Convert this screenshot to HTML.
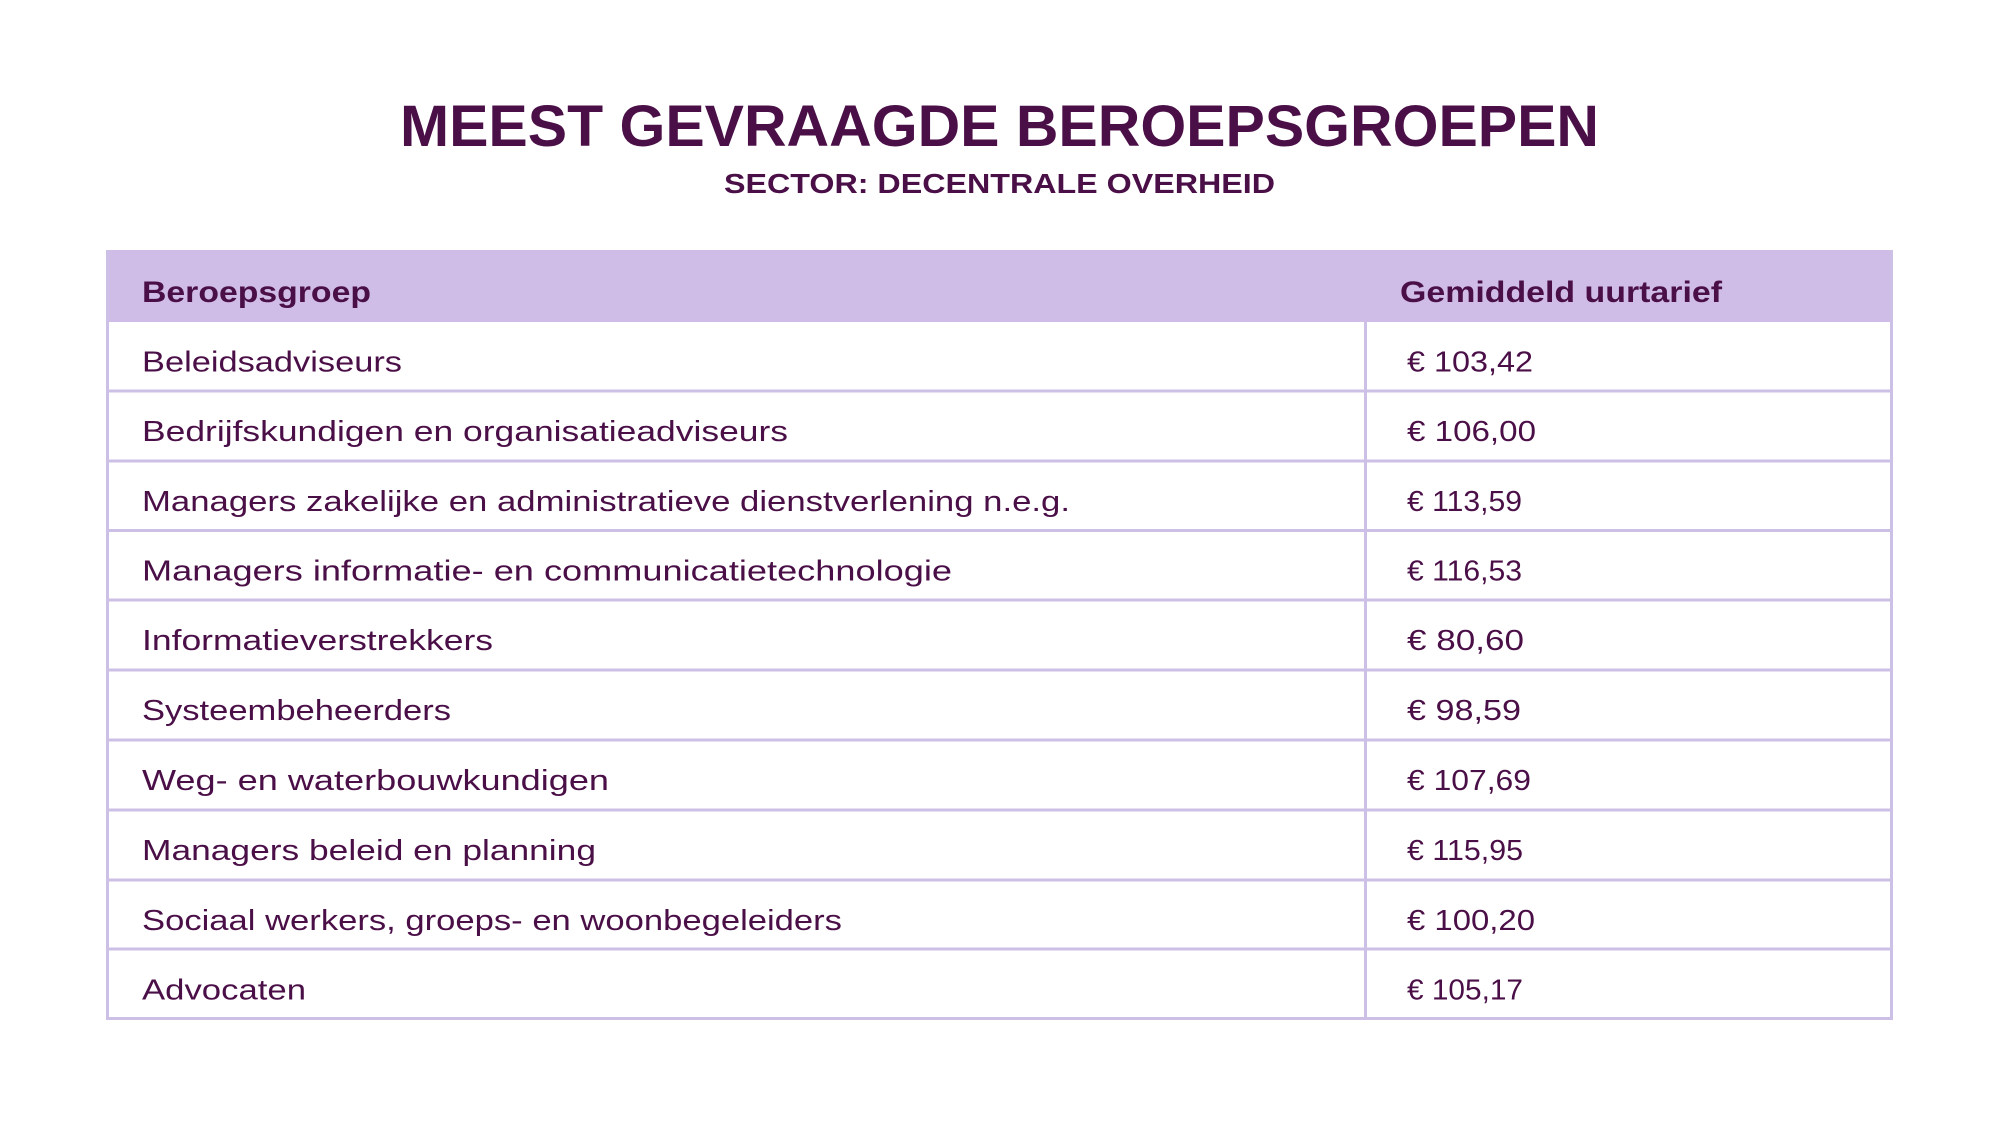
<!DOCTYPE html>
<html>
<head>
<meta charset="utf-8">
<style>
  html, body { margin:0; padding:0; background:#ffffff; }
  svg { display:block; }
  text { font-family: "Liberation Sans", "DejaVu Sans", sans-serif; fill:#4b0f48; }
  .b { font-weight:bold; }
</style>
</head>
<body>
<svg width="2000" height="1125" viewBox="0 0 2000 1125" xmlns="http://www.w3.org/2000/svg">
  <rect x="0" y="0" width="2000" height="1125" fill="#ffffff"/>

  <!-- Title -->
  <text class="b" x="400" y="146" font-size="58" textLength="1199" lengthAdjust="spacingAndGlyphs">MEEST GEVRAAGDE BEROEPSGROEPEN</text>
  <text class="b" x="724" y="193" font-size="28" textLength="551" lengthAdjust="spacingAndGlyphs">SECTOR: DECENTRALE OVERHEID</text>

  <!-- Header -->
  <rect x="106" y="250" width="1787" height="72" fill="#cfbde8"/>
  <text class="b" x="142" y="302" font-size="30" textLength="229" lengthAdjust="spacingAndGlyphs">Beroepsgroep</text>
  <text class="b" x="1400" y="302" font-size="30" textLength="322" lengthAdjust="spacingAndGlyphs">Gemiddeld uurtarief</text>

  <!-- Table lines -->
  <g stroke="#cdc0e6" stroke-width="3" fill="none">
    <line x1="107.5" y1="250" x2="107.5" y2="1020"/>
    <line x1="1891.5" y1="250" x2="1891.5" y2="1020"/>
    <line x1="1365.5" y1="322" x2="1365.5" y2="1020"/>
    <line x1="106" y1="391" x2="1893" y2="391"/>
    <line x1="106" y1="461" x2="1893" y2="461"/>
    <line x1="106" y1="530.5" x2="1893" y2="530.5"/>
    <line x1="106" y1="600" x2="1893" y2="600"/>
    <line x1="106" y1="670" x2="1893" y2="670"/>
    <line x1="106" y1="740" x2="1893" y2="740"/>
    <line x1="106" y1="810" x2="1893" y2="810"/>
    <line x1="106" y1="880" x2="1893" y2="880"/>
    <line x1="106" y1="949" x2="1893" y2="949"/>
    <line x1="106" y1="1018.5" x2="1893" y2="1018.5"/>
  </g>

  <!-- Rows: labels -->
  <g font-size="29">
    <text x="142" y="371.5" textLength="260" lengthAdjust="spacingAndGlyphs">Beleidsadviseurs</text>
    <text x="142" y="441" textLength="646" lengthAdjust="spacingAndGlyphs">Bedrijfskundigen en organisatieadviseurs</text>
    <text x="142" y="511" textLength="928" lengthAdjust="spacingAndGlyphs">Managers zakelijke en administratieve dienstverlening n.e.g.</text>
    <text x="142" y="580.5" textLength="810" lengthAdjust="spacingAndGlyphs">Managers informatie- en communicatietechnologie</text>
    <text x="142" y="650" textLength="351" lengthAdjust="spacingAndGlyphs">Informatieverstrekkers</text>
    <text x="142" y="720" textLength="309" lengthAdjust="spacingAndGlyphs">Systeembeheerders</text>
    <text x="142" y="790" textLength="467" lengthAdjust="spacingAndGlyphs">Weg- en waterbouwkundigen</text>
    <text x="142" y="860" textLength="454" lengthAdjust="spacingAndGlyphs">Managers beleid en planning</text>
    <text x="142" y="930" textLength="700" lengthAdjust="spacingAndGlyphs">Sociaal werkers, groeps- en woonbegeleiders</text>
    <text x="142" y="999.5" textLength="164" lengthAdjust="spacingAndGlyphs">Advocaten</text>
  </g>

  <!-- Rows: values -->
  <g font-size="29">
    <text x="1407" y="371.5" textLength="126" lengthAdjust="spacingAndGlyphs">€ 103,42</text>
    <text x="1407" y="441" textLength="129" lengthAdjust="spacingAndGlyphs">€ 106,00</text>
    <text x="1407" y="511" textLength="115" lengthAdjust="spacingAndGlyphs">€ 113,59</text>
    <text x="1407" y="580.5" textLength="115" lengthAdjust="spacingAndGlyphs">€ 116,53</text>
    <text x="1407" y="650" textLength="117" lengthAdjust="spacingAndGlyphs">€ 80,60</text>
    <text x="1407" y="720" textLength="114" lengthAdjust="spacingAndGlyphs">€ 98,59</text>
    <text x="1407" y="790" textLength="124" lengthAdjust="spacingAndGlyphs">€ 107,69</text>
    <text x="1407" y="860" textLength="116" lengthAdjust="spacingAndGlyphs">€ 115,95</text>
    <text x="1407" y="930" textLength="128" lengthAdjust="spacingAndGlyphs">€ 100,20</text>
    <text x="1407" y="999.5" textLength="116" lengthAdjust="spacingAndGlyphs">€ 105,17</text>
  </g>
</svg>
</body>
</html>
